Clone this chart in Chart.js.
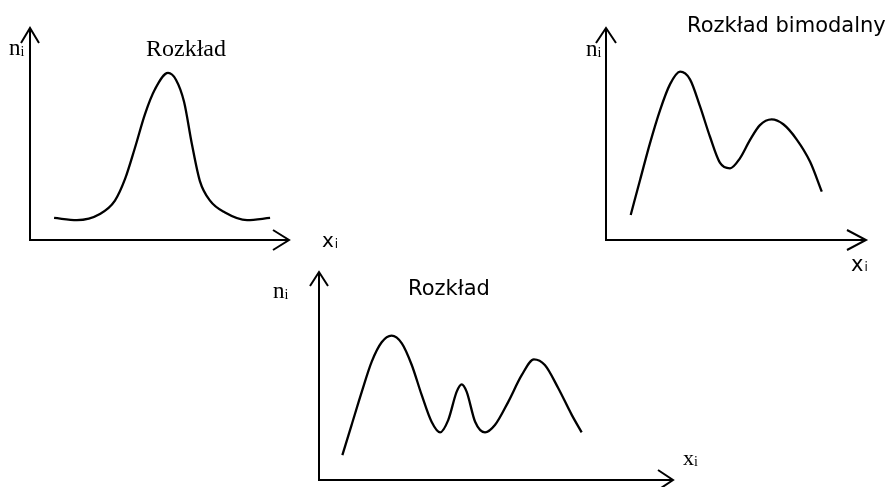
<!DOCTYPE html>
<html>
<head>
<meta charset="utf-8">
<script src="https://cdn.jsdelivr.net/npm/chart.js@4/dist/chart.umd.min.js"></script>
<style>
  html, body { margin: 0; padding: 0; background: #fff; width: 886px; height: 487px; overflow: hidden; }
  canvas { position: absolute; left: 0; top: 0; }
</style>
</head>
<body>
<canvas id="unimodal" width="886" height="487"></canvas>
<canvas id="bimodal" width="886" height="487"></canvas>
<canvas id="multimodal" width="886" height="487"></canvas>
<script>
// Unimodal distribution: x_i and n_i (arbitrary units, axes run 0..10)
const uniX = [0.93, 1.81, 2.70, 3.28, 3.67, 4.05, 4.44, 4.83, 5.33, 5.64, 5.95, 6.25, 6.56, 6.95, 7.53, 8.38, 9.27];
const uniN = [1.04, 0.94, 1.23, 1.86, 2.88, 4.34, 5.94, 7.12, 7.88, 7.55, 6.51, 4.53, 2.78, 1.86, 1.30, 0.94, 1.04];

// Bimodal distribution
const biX = [0.95, 1.31, 1.69, 2.08, 2.46, 2.85, 3.23, 3.62, 4.00, 4.38, 4.77, 5.15, 5.54, 5.92, 6.37,
             6.82, 7.33, 7.85, 8.30];
const biN = [1.18, 2.83, 4.56, 6.13, 7.34, 7.94, 7.58, 6.29, 4.87, 3.65, 3.38, 3.85, 4.72, 5.42, 5.69,
             5.46, 4.75, 3.69, 2.28];

// Multimodal distribution
const multiX = [0.66, 0.92, 1.21, 1.49, 1.77, 2.05, 2.34, 2.62, 2.90, 3.18, 3.42, 3.65, 3.89, 4.03, 4.17,
                4.41, 4.69, 4.97, 5.35, 5.73, 6.07, 6.38, 6.76, 7.14, 7.42];
const multiN = [1.20, 2.64, 4.25, 5.69, 6.62, 6.94, 6.57, 5.53, 4.09, 2.80, 2.29, 2.88, 4.25, 4.60, 4.25,
                2.80, 2.29, 2.64, 3.77, 5.05, 5.80, 5.53, 4.41, 3.13, 2.29];

const titles = ['Rozkład', 'Rozkład bimodalny', 'Rozkład'];
const axisMain = { y: 'n', x: 'x' };
const axisSub = 'i';

const SERIF = '"Liberation Serif", "Times New Roman", serif';
const SANS = '"DejaVu Sans", Verdana, sans-serif';

// Hand-drawn style axes with open arrowheads plus free-standing text labels
const sketchAxes = {
  id: 'sketchAxes',
  afterDatasetsDraw(chart, args, opts) {
    const { ctx, chartArea: a } = chart;
    ctx.save();
    ctx.strokeStyle = '#000';
    ctx.lineWidth = 2;
    ctx.lineCap = 'butt';
    ctx.beginPath();
    ctx.moveTo(a.left, a.top);
    ctx.lineTo(a.left, a.bottom);
    ctx.lineTo(a.right, a.bottom);
    ctx.stroke();
    const yA = opts.yArrow, xA = opts.xArrow;
    ctx.beginPath();
    ctx.moveTo(a.left - yA.dx, a.top + yA.dy);
    ctx.lineTo(a.left, a.top);
    ctx.lineTo(a.left + yA.dx, a.top + yA.dy);
    ctx.moveTo(a.right - xA.dx, a.bottom - xA.dy);
    ctx.lineTo(a.right, a.bottom);
    ctx.lineTo(a.right - xA.dx, a.bottom + xA.dy);
    ctx.stroke();

    ctx.fillStyle = '#000';
    ctx.textBaseline = 'alphabetic';
    ctx.textAlign = 'left';
    for (const l of opts.labels) {
      ctx.font = `${l.size}px ${l.family}`;
      ctx.fillText(l.text, l.x, l.y);
      if (l.sub) {
        const w = ctx.measureText(l.text).width;
        ctx.font = `${l.subSize}px ${l.family}`;
        ctx.fillText(l.sub, l.x + w + (l.subGap || 0), l.y + (l.subDy || 0));
      }
    }
    ctx.restore();
  }
};

function makeChart(id, xs, ys, padding, axes) {
  const pts = xs.map((x, i) => ({ x, y: ys[i] }));
  return new Chart(document.getElementById(id), {
    type: 'line',
    data: {
      datasets: [{
        data: pts,
        borderColor: '#000',
        borderWidth: 2.3,
        pointRadius: 0,
        fill: false,
        cubicInterpolationMode: 'monotone'
      }]
    },
    options: {
      responsive: false,
      animation: false,
      events: [],
      layout: { padding },
      scales: {
        x: { type: 'linear', min: 0, max: 10, display: false },
        y: { type: 'linear', min: 0, max: 10, display: false }
      },
      plugins: {
        legend: { display: false },
        tooltip: { enabled: false },
        sketchAxes: axes
      }
    },
    plugins: [sketchAxes]
  });
}

makeChart('unimodal', uniX, uniN,
  { left: 30, top: 28, right: 597, bottom: 247 },
  {
    yArrow: { dx: 9, dy: 15 }, xArrow: { dx: 16, dy: 10 },
    labels: [
      { text: titles[0], x: 146, y: 56, size: 24, family: SERIF },
      { text: axisMain.y, sub: axisSub, x: 9, y: 55, size: 23, subSize: 14, subDy: 1, family: SERIF },
      { text: axisMain.x, sub: axisSub, x: 322, y: 247, size: 20, subSize: 12, subDy: 1, subGap: 1, family: SANS }
    ]
  });

makeChart('bimodal', biX, biN,
  { left: 606, top: 28, right: 20, bottom: 247 },
  {
    yArrow: { dx: 10, dy: 15 }, xArrow: { dx: 19, dy: 10 },
    labels: [
      { text: titles[1], x: 687, y: 32, size: 21, family: SANS },
      { text: axisMain.y, sub: axisSub, x: 586, y: 56, size: 23, subSize: 14, subDy: 1, family: SERIF },
      { text: axisMain.x, sub: axisSub, x: 851, y: 271, size: 21, subSize: 12, subDy: 0, subGap: 1, family: SANS }
    ]
  });

makeChart('multimodal', multiX, multiN,
  { left: 319, top: 272, right: 213, bottom: 7 },
  {
    yArrow: { dx: 9, dy: 14 }, xArrow: { dx: 15, dy: 10 },
    labels: [
      { text: titles[2], x: 408, y: 295, size: 21, family: SANS },
      { text: axisMain.y, sub: axisSub, x: 273, y: 298, size: 23, subSize: 14, subDy: 1, family: SERIF },
      { text: axisMain.x, sub: axisSub, x: 683, y: 465, size: 22, subSize: 14, subDy: 1, family: SERIF }
    ]
  });
</script>
</body>
</html>
